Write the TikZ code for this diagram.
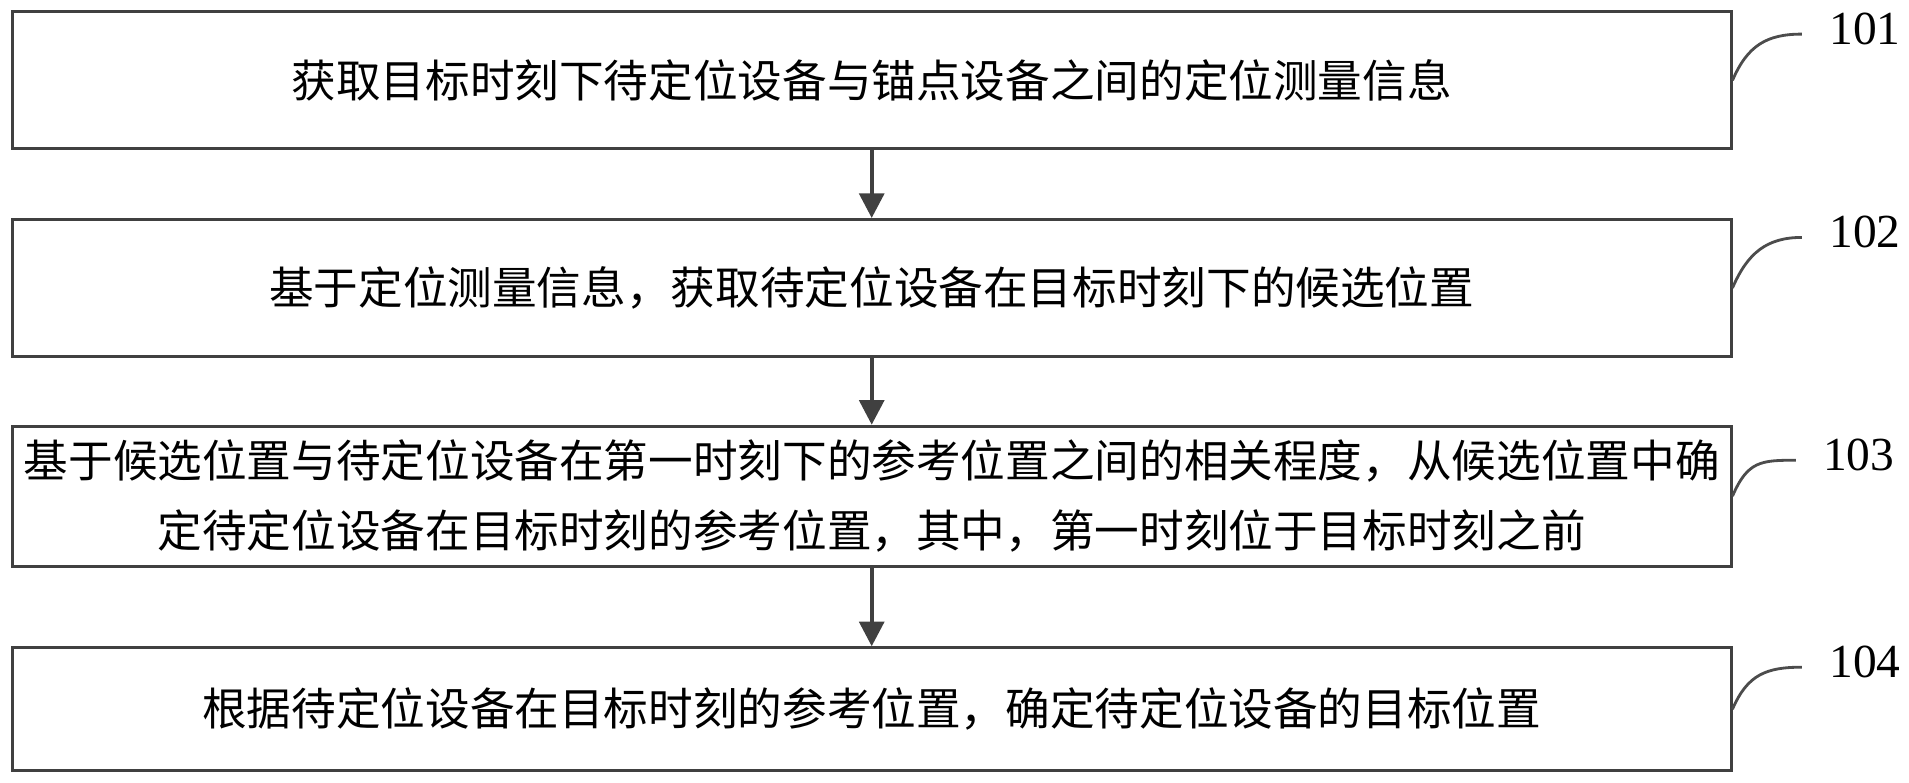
\documentclass[tikz,border=0pt]{standalone}
\usepackage{fontspec}
\setmainfont{Liberation Serif}
\newfontfamily\cjk{Noto Sans CJK SC}
\usetikzlibrary{positioning,arrows.meta}
\tikzset{
  stepbox/.style={draw=black!75, thick, minimum width=17.19cm, minimum height=1.37cm, inner sep=0pt, align=center, font=\cjk\fontsize{12.7pt}{20pt}\selectfont},
  flow/.style={-{Triangle[length=7pt,width=7pt]}, very thick, black!75},
  tag/.style={draw=black!70, thick},
  num/.style={font=\fontsize{13.5pt}{16pt}\selectfont}
}
\begin{document}
\begin{tikzpicture}[x=0.012175cm, y=-0.012175cm]
\useasboundingbox (0,0) rectangle (1568,643);

% Steps
\node[stepbox] (s1) at (716,66) {获取目标时刻下待定位设备与锚点设备之间的定位测量信息};
\node[stepbox] (s2) at (716,236.5) {基于定位测量信息，获取待定位设备在目标时刻下的候选位置};
\node[stepbox, minimum height=1.40cm] (s3) at (716,407.5) {基于候选位置与待定位设备在第一时刻下的参考位置之间的相关程度，从候选位置中确\\定待定位设备在目标时刻的参考位置，其中，第一时刻位于目标时刻之前};
\node[stepbox, minimum height=1.23cm] (s4) at (716,582.5) {根据待定位设备在目标时刻的参考位置，确定待定位设备的目标位置};

% Arrows
\draw[flow] (s1) -- (s2);
\draw[flow] (s2) -- (s3);
\draw[flow] (s3) -- (s4);

% Step labels
\foreach \s/\n/\y/\dx in {s1/101/28/0, s2/102/195/0, s3/103/378/-5, s4/104/548/0} {
  \coordinate (e\n) at (1480+\dx,\y);
  \draw[tag] (\s.east) .. controls ([xshift=0.15cm,yshift=0.35cm]\s.east) and ([xshift=-0.35cm]e\n) .. (e\n);
  \node[num, right=0.15cm of e\n, anchor=west, yshift=0.05cm] (l\n) {\n};
}
\end{tikzpicture}
\end{document}
